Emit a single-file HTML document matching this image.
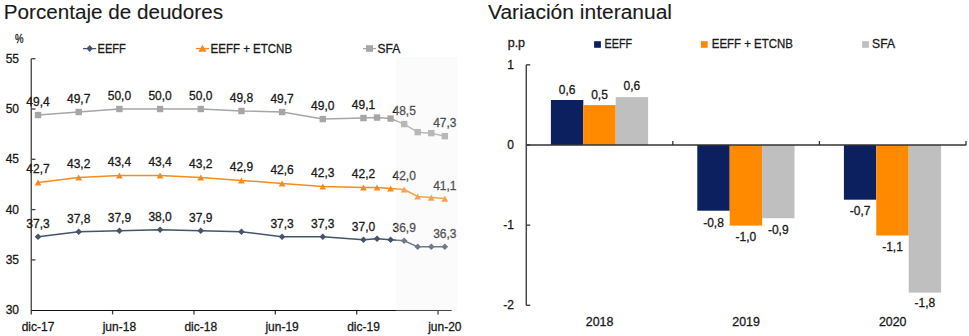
<!DOCTYPE html>
<html><head><meta charset="utf-8"><style>
html,body{margin:0;padding:0;background:#fff;width:969px;height:336px;overflow:hidden}
svg{display:block;font-family:"Liberation Sans", sans-serif}
text{stroke:currentColor;stroke-width:0.3px}
</style></head><body>
<svg width="969" height="336" viewBox="0 0 969 336">
<rect width="969" height="336" fill="#fff"/>
<text x="3.8" y="18.8" font-size="20" text-anchor="start" fill="#1a1a1a" color="#1a1a1a" textLength="219.2" lengthAdjust="spacingAndGlyphs" style="stroke-width:0.12px">Porcentaje de deudores</text>
<text x="488" y="19.1" font-size="20" text-anchor="start" fill="#1a1a1a" color="#1a1a1a" textLength="184" lengthAdjust="spacingAndGlyphs" style="stroke-width:0.12px">Variación interanual</text>
<text x="14.9" y="42.5" font-size="12" text-anchor="start" fill="#1a1a1a" color="#1a1a1a" textLength="8.5" lengthAdjust="spacingAndGlyphs">%</text>
<text x="19" y="314.3" font-size="12" text-anchor="end" fill="#1a1a1a" color="#1a1a1a">30</text>
<text x="19" y="264.0" font-size="12" text-anchor="end" fill="#1a1a1a" color="#1a1a1a">35</text>
<text x="19" y="213.69999999999996" font-size="12" text-anchor="end" fill="#1a1a1a" color="#1a1a1a">40</text>
<text x="19" y="163.39999999999998" font-size="12" text-anchor="end" fill="#1a1a1a" color="#1a1a1a">45</text>
<text x="19" y="113.09999999999997" font-size="12" text-anchor="end" fill="#1a1a1a" color="#1a1a1a">50</text>
<text x="19" y="62.79999999999999" font-size="12" text-anchor="end" fill="#1a1a1a" color="#1a1a1a">55</text>
<text x="38.03" y="330.6" font-size="12" text-anchor="middle" fill="#1a1a1a" color="#1a1a1a">dic-17</text>
<text x="119.39" y="330.6" font-size="12" text-anchor="middle" fill="#1a1a1a" color="#1a1a1a">jun-18</text>
<text x="200.75" y="330.6" font-size="12" text-anchor="middle" fill="#1a1a1a" color="#1a1a1a">dic-18</text>
<text x="282.11" y="330.6" font-size="12" text-anchor="middle" fill="#1a1a1a" color="#1a1a1a">jun-19</text>
<text x="363.47" y="330.6" font-size="12" text-anchor="middle" fill="#1a1a1a" color="#1a1a1a">dic-19</text>
<text x="444.83000000000004" y="330.6" font-size="12" text-anchor="middle" fill="#1a1a1a" color="#1a1a1a">jun-20</text>
<g stroke="#404040" stroke-width="1.3"><line x1="31.25" y1="58.69999999999999" x2="31.25" y2="314.4" /><line x1="31.25" y1="259.9" x2="35.45" y2="259.9" /><line x1="31.25" y1="209.59999999999997" x2="35.45" y2="209.59999999999997" /><line x1="31.25" y1="159.29999999999998" x2="35.45" y2="159.29999999999998" /><line x1="31.25" y1="108.99999999999997" x2="35.45" y2="108.99999999999997" /><line x1="31.25" y1="58.69999999999999" x2="35.45" y2="58.69999999999999" /><line x1="112.61" y1="310.2" x2="112.61" y2="314.4" /><line x1="193.97" y1="310.2" x2="193.97" y2="314.4" /><line x1="275.33000000000004" y1="310.2" x2="275.33000000000004" y2="314.4" /><line x1="356.69" y1="310.2" x2="356.69" y2="314.4" /><line x1="438.05" y1="310.2" x2="438.05" y2="314.4" /><line x1="31.25" y1="310.5" x2="451.7" y2="310.5" stroke="#111" stroke-width="1.1"/></g>
<polyline points="38.03,115.04 78.71,112.02 119.39,109.00 160.07,109.00 200.75,109.00 241.43,111.01 282.11,112.02 322.79,119.06 363.47,118.05 377.03,117.55 390.59,118.56 404.15,124.09 417.71,132.14 431.27,133.14 444.83,136.16" fill="none" stroke="#A6A6A6" stroke-width="1.5" stroke-linejoin="round"/>
<rect x="34.83" y="111.84" width="6.4" height="6.4" fill="#A6A6A6"/>
<rect x="75.51" y="108.82" width="6.4" height="6.4" fill="#A6A6A6"/>
<rect x="116.19" y="105.80" width="6.4" height="6.4" fill="#A6A6A6"/>
<rect x="156.87" y="105.80" width="6.4" height="6.4" fill="#A6A6A6"/>
<rect x="197.55" y="105.80" width="6.4" height="6.4" fill="#A6A6A6"/>
<rect x="238.23" y="107.81" width="6.4" height="6.4" fill="#A6A6A6"/>
<rect x="278.91" y="108.82" width="6.4" height="6.4" fill="#A6A6A6"/>
<rect x="319.59" y="115.86" width="6.4" height="6.4" fill="#A6A6A6"/>
<rect x="360.27" y="114.85" width="6.4" height="6.4" fill="#A6A6A6"/>
<rect x="373.83" y="114.35" width="6.4" height="6.4" fill="#A6A6A6"/>
<rect x="387.39" y="115.36" width="6.4" height="6.4" fill="#A6A6A6"/>
<rect x="400.95" y="120.89" width="6.4" height="6.4" fill="#A6A6A6"/>
<rect x="414.51" y="128.94" width="6.4" height="6.4" fill="#A6A6A6"/>
<rect x="428.07" y="129.94" width="6.4" height="6.4" fill="#A6A6A6"/>
<rect x="441.63" y="132.96" width="6.4" height="6.4" fill="#A6A6A6"/>
<text x="38.03" y="106.04" font-size="12" text-anchor="middle" fill="#1a1a1a" color="#1a1a1a">49,4</text>
<text x="78.71" y="103.02" font-size="12" text-anchor="middle" fill="#1a1a1a" color="#1a1a1a">49,7</text>
<text x="119.39" y="100.00" font-size="12" text-anchor="middle" fill="#1a1a1a" color="#1a1a1a">50,0</text>
<text x="160.07" y="100.00" font-size="12" text-anchor="middle" fill="#1a1a1a" color="#1a1a1a">50,0</text>
<text x="200.75" y="100.00" font-size="12" text-anchor="middle" fill="#1a1a1a" color="#1a1a1a">50,0</text>
<text x="241.43" y="102.01" font-size="12" text-anchor="middle" fill="#1a1a1a" color="#1a1a1a">49,8</text>
<text x="282.11" y="103.02" font-size="12" text-anchor="middle" fill="#1a1a1a" color="#1a1a1a">49,7</text>
<text x="322.79" y="110.06" font-size="12" text-anchor="middle" fill="#1a1a1a" color="#1a1a1a">49,0</text>
<text x="363.47" y="109.05" font-size="12" text-anchor="middle" fill="#1a1a1a" color="#1a1a1a">49,1</text>
<text x="404.15" y="115.09" font-size="12" text-anchor="middle" fill="#1a1a1a" color="#1a1a1a">48,5</text>
<text x="444.83" y="127.16" font-size="12" text-anchor="middle" fill="#1a1a1a" color="#1a1a1a">47,3</text>
<polyline points="38.03,182.44 78.71,177.41 119.39,175.40 160.07,175.40 200.75,177.41 241.43,180.43 282.11,183.44 322.79,186.46 363.47,187.47 377.03,187.47 390.59,188.47 404.15,189.48 417.71,196.52 431.27,197.53 444.83,198.53" fill="none" stroke="#F68B1F" stroke-width="1.5" stroke-linejoin="round"/>
<path d="M38.03,179.44 L41.43,185.54 L34.63,185.54Z" fill="#F68B1F"/>
<path d="M78.71,174.41 L82.11,180.51 L75.31,180.51Z" fill="#F68B1F"/>
<path d="M119.39,172.40 L122.79,178.50 L115.99,178.50Z" fill="#F68B1F"/>
<path d="M160.07,172.40 L163.47,178.50 L156.67,178.50Z" fill="#F68B1F"/>
<path d="M200.75,174.41 L204.15,180.51 L197.35,180.51Z" fill="#F68B1F"/>
<path d="M241.43,177.43 L244.83,183.53 L238.03,183.53Z" fill="#F68B1F"/>
<path d="M282.11,180.44 L285.51,186.54 L278.71,186.54Z" fill="#F68B1F"/>
<path d="M322.79,183.46 L326.19,189.56 L319.39,189.56Z" fill="#F68B1F"/>
<path d="M363.47,184.47 L366.87,190.57 L360.07,190.57Z" fill="#F68B1F"/>
<path d="M377.03,184.47 L380.43,190.57 L373.63,190.57Z" fill="#F68B1F"/>
<path d="M390.59,185.47 L393.99,191.57 L387.19,191.57Z" fill="#F68B1F"/>
<path d="M404.15,186.48 L407.55,192.58 L400.75,192.58Z" fill="#F68B1F"/>
<path d="M417.71,193.52 L421.11,199.62 L414.31,199.62Z" fill="#F68B1F"/>
<path d="M431.27,194.53 L434.67,200.63 L427.87,200.63Z" fill="#F68B1F"/>
<path d="M444.83,195.53 L448.23,201.63 L441.43,201.63Z" fill="#F68B1F"/>
<text x="38.03" y="173.44" font-size="12" text-anchor="middle" fill="#1a1a1a" color="#1a1a1a">42,7</text>
<text x="78.71" y="168.41" font-size="12" text-anchor="middle" fill="#1a1a1a" color="#1a1a1a">43,2</text>
<text x="119.39" y="166.40" font-size="12" text-anchor="middle" fill="#1a1a1a" color="#1a1a1a">43,4</text>
<text x="160.07" y="166.40" font-size="12" text-anchor="middle" fill="#1a1a1a" color="#1a1a1a">43,4</text>
<text x="200.75" y="168.41" font-size="12" text-anchor="middle" fill="#1a1a1a" color="#1a1a1a">43,2</text>
<text x="241.43" y="171.43" font-size="12" text-anchor="middle" fill="#1a1a1a" color="#1a1a1a">42,9</text>
<text x="282.11" y="174.44" font-size="12" text-anchor="middle" fill="#1a1a1a" color="#1a1a1a">42,6</text>
<text x="322.79" y="177.46" font-size="12" text-anchor="middle" fill="#1a1a1a" color="#1a1a1a">42,3</text>
<text x="363.47" y="178.47" font-size="12" text-anchor="middle" fill="#1a1a1a" color="#1a1a1a">42,2</text>
<text x="404.15" y="180.48" font-size="12" text-anchor="middle" fill="#1a1a1a" color="#1a1a1a">42,0</text>
<text x="444.83" y="189.53" font-size="12" text-anchor="middle" fill="#1a1a1a" color="#1a1a1a">41,1</text>
<polyline points="38.03,236.76 78.71,231.73 119.39,230.73 160.07,229.72 200.75,230.73 241.43,231.73 282.11,236.76 322.79,236.76 363.47,239.78 377.03,238.77 390.59,239.78 404.15,240.79 417.71,246.82 431.27,246.82 444.83,246.82" fill="none" stroke="#44546A" stroke-width="1.5" stroke-linejoin="round"/>
<path d="M38.03,233.46 L41.33,236.76 L38.03,240.06 L34.73,236.76Z" fill="#44546A"/>
<path d="M78.71,228.43 L82.01,231.73 L78.71,235.03 L75.41,231.73Z" fill="#44546A"/>
<path d="M119.39,227.43 L122.69,230.73 L119.39,234.03 L116.09,230.73Z" fill="#44546A"/>
<path d="M160.07,226.42 L163.37,229.72 L160.07,233.02 L156.77,229.72Z" fill="#44546A"/>
<path d="M200.75,227.43 L204.05,230.73 L200.75,234.03 L197.45,230.73Z" fill="#44546A"/>
<path d="M241.43,228.43 L244.73,231.73 L241.43,235.03 L238.13,231.73Z" fill="#44546A"/>
<path d="M282.11,233.46 L285.41,236.76 L282.11,240.06 L278.81,236.76Z" fill="#44546A"/>
<path d="M322.79,233.46 L326.09,236.76 L322.79,240.06 L319.49,236.76Z" fill="#44546A"/>
<path d="M363.47,236.48 L366.77,239.78 L363.47,243.08 L360.17,239.78Z" fill="#44546A"/>
<path d="M377.03,235.47 L380.33,238.77 L377.03,242.07 L373.73,238.77Z" fill="#44546A"/>
<path d="M390.59,236.48 L393.89,239.78 L390.59,243.08 L387.29,239.78Z" fill="#44546A"/>
<path d="M404.15,237.49 L407.45,240.79 L404.15,244.09 L400.85,240.79Z" fill="#44546A"/>
<path d="M417.71,243.52 L421.01,246.82 L417.71,250.12 L414.41,246.82Z" fill="#44546A"/>
<path d="M431.27,243.52 L434.57,246.82 L431.27,250.12 L427.97,246.82Z" fill="#44546A"/>
<path d="M444.83,243.52 L448.13,246.82 L444.83,250.12 L441.53,246.82Z" fill="#44546A"/>
<text x="38.03" y="227.76" font-size="12" text-anchor="middle" fill="#1a1a1a" color="#1a1a1a">37,3</text>
<text x="78.71" y="222.73" font-size="12" text-anchor="middle" fill="#1a1a1a" color="#1a1a1a">37,8</text>
<text x="119.39" y="221.73" font-size="12" text-anchor="middle" fill="#1a1a1a" color="#1a1a1a">37,9</text>
<text x="160.07" y="220.72" font-size="12" text-anchor="middle" fill="#1a1a1a" color="#1a1a1a">38,0</text>
<text x="200.75" y="221.73" font-size="12" text-anchor="middle" fill="#1a1a1a" color="#1a1a1a">37,9</text>
<text x="282.11" y="227.76" font-size="12" text-anchor="middle" fill="#1a1a1a" color="#1a1a1a">37,3</text>
<text x="322.79" y="227.76" font-size="12" text-anchor="middle" fill="#1a1a1a" color="#1a1a1a">37,3</text>
<text x="363.47" y="230.78" font-size="12" text-anchor="middle" fill="#1a1a1a" color="#1a1a1a">37,0</text>
<text x="404.15" y="231.79" font-size="12" text-anchor="middle" fill="#1a1a1a" color="#1a1a1a">36,9</text>
<text x="444.83" y="237.82" font-size="12" text-anchor="middle" fill="#1a1a1a" color="#1a1a1a">36,3</text>
<rect x="396" y="57" width="61.5" height="254.5" fill="rgba(238,238,238,0.25)"/>
<line x1="83" y1="48.6" x2="96.2" y2="48.6" stroke="#44546A" stroke-width="1.3"/>
<path d="M89.7,44.9 L92.9,48.5 L89.7,52.1 L86.5,48.5Z" fill="#44546A"/>
<text x="97.5" y="52.7" font-size="12" text-anchor="start" fill="#1a1a1a" color="#1a1a1a" textLength="28.3" lengthAdjust="spacingAndGlyphs">EEFF</text>
<line x1="195.9" y1="48.6" x2="209.1" y2="48.6" stroke="#F68B1F" stroke-width="1.3"/>
<path d="M202.5,44.8 L206.6,51.8 L198.4,51.8Z" fill="#F68B1F"/>
<text x="210.6" y="52.7" font-size="12" text-anchor="start" fill="#1a1a1a" color="#1a1a1a" textLength="81.5" lengthAdjust="spacingAndGlyphs">EEFF + ETCNB</text>
<line x1="363" y1="48.6" x2="376" y2="48.6" stroke="#A6A6A6" stroke-width="1.3"/>
<rect x="366" y="45.2" width="7" height="6.6" fill="#A6A6A6"/>
<text x="377.5" y="52.7" font-size="12" text-anchor="start" fill="#1a1a1a" color="#1a1a1a" textLength="22.7" lengthAdjust="spacingAndGlyphs">SFA</text>
<text x="507.7" y="47.1" font-size="12" text-anchor="start" fill="#1a1a1a" color="#1a1a1a" textLength="17.4" lengthAdjust="spacingAndGlyphs">p.p</text>
<text x="514" y="68.94999999999999" font-size="12" text-anchor="end" fill="#1a1a1a" color="#1a1a1a">1</text>
<text x="514" y="149.1" font-size="12" text-anchor="end" fill="#1a1a1a" color="#1a1a1a">0</text>
<text x="514" y="229.25" font-size="12" text-anchor="end" fill="#1a1a1a" color="#1a1a1a">-1</text>
<text x="514" y="309.40000000000003" font-size="12" text-anchor="end" fill="#1a1a1a" color="#1a1a1a">-2</text>
<rect x="550.90" y="100.0" width="32.4" height="45.00" fill="#0C2060"/>
<text x="567.10" y="93.7" font-size="12" text-anchor="middle" fill="#1a1a1a" color="#1a1a1a">0,6</text>
<rect x="583.30" y="105.1" width="32.4" height="39.90" fill="#FF8A00"/>
<text x="599.50" y="98.8" font-size="12" text-anchor="middle" fill="#1a1a1a" color="#1a1a1a">0,5</text>
<rect x="615.70" y="97.1" width="32.4" height="47.90" fill="#BFBFBF"/>
<text x="631.90" y="90.3" font-size="12" text-anchor="middle" fill="#1a1a1a" color="#1a1a1a">0,6</text>
<rect x="697.30" y="145" width="32.4" height="65.70" fill="#0C2060"/>
<text x="713.50" y="226.8" font-size="12" text-anchor="middle" fill="#1a1a1a" color="#1a1a1a">-0,8</text>
<rect x="729.70" y="145" width="32.4" height="80.60" fill="#FF8A00"/>
<text x="745.90" y="240.9" font-size="12" text-anchor="middle" fill="#1a1a1a" color="#1a1a1a">-1,0</text>
<rect x="762.10" y="145" width="32.4" height="73.20" fill="#BFBFBF"/>
<text x="778.30" y="233.5" font-size="12" text-anchor="middle" fill="#1a1a1a" color="#1a1a1a">-0,9</text>
<rect x="843.90" y="145" width="32.4" height="54.70" fill="#0C2060"/>
<text x="860.10" y="215.0" font-size="12" text-anchor="middle" fill="#1a1a1a" color="#1a1a1a">-0,7</text>
<rect x="876.30" y="145" width="32.4" height="90.50" fill="#FF8A00"/>
<text x="892.50" y="250.6" font-size="12" text-anchor="middle" fill="#1a1a1a" color="#1a1a1a">-1,1</text>
<rect x="908.70" y="145" width="32.4" height="147.60" fill="#BFBFBF"/>
<text x="924.90" y="307.3" font-size="12" text-anchor="middle" fill="#1a1a1a" color="#1a1a1a">-1,8</text>
<text x="599.54" y="325.8" font-size="12" text-anchor="middle" fill="#1a1a1a" color="#1a1a1a" textLength="27.6" lengthAdjust="spacingAndGlyphs">2018</text>
<text x="746.12" y="325.8" font-size="12" text-anchor="middle" fill="#1a1a1a" color="#1a1a1a" textLength="27.6" lengthAdjust="spacingAndGlyphs">2019</text>
<text x="892.70" y="325.8" font-size="12" text-anchor="middle" fill="#1a1a1a" color="#1a1a1a" textLength="27.6" lengthAdjust="spacingAndGlyphs">2020</text>
<g stroke="#333" stroke-width="1.3"><line x1="526.25" y1="64.85" x2="526.25" y2="305.3" /><line x1="526.25" y1="64.85" x2="530.25" y2="64.85" /><line x1="526.25" y1="145.0" x2="530.25" y2="145.0" /><line x1="526.25" y1="225.15" x2="530.25" y2="225.15" /><line x1="526.25" y1="305.3" x2="530.25" y2="305.3" /><line x1="526.25" y1="145" x2="966.2" y2="145" /><line x1="672.83" y1="145" x2="672.83" y2="141" /><line x1="819.41" y1="145" x2="819.41" y2="141" /><line x1="965.99" y1="145" x2="965.99" y2="141" /></g>
<rect x="594.1" y="41.2" width="6.8" height="6.6" fill="#0C2060"/>
<text x="604.6" y="47.9" font-size="12" text-anchor="start" fill="#1a1a1a" color="#1a1a1a" textLength="27.5" lengthAdjust="spacingAndGlyphs">EEFF</text>
<rect x="700.9" y="41.2" width="6.8" height="6.6" fill="#FF8A00"/>
<text x="711.8" y="47.9" font-size="12" text-anchor="start" fill="#1a1a1a" color="#1a1a1a" textLength="81" lengthAdjust="spacingAndGlyphs">EEFF + ETCNB</text>
<rect x="862.1" y="41.2" width="6.8" height="6.6" fill="#BFBFBF"/>
<text x="872.1" y="47.9" font-size="12" text-anchor="start" fill="#1a1a1a" color="#1a1a1a" textLength="22.9" lengthAdjust="spacingAndGlyphs">SFA</text>
</svg></body></html>
